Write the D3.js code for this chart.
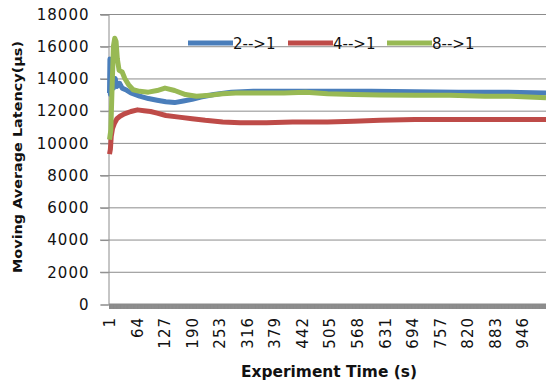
<!DOCTYPE html>
<html><head><meta charset="utf-8">
<script src="https://cdn.jsdelivr.net/npm/d3@7"></script>
<style>
html,body{margin:0;padding:0;background:#fff;}
svg{display:block;}
text{font-family:"DejaVu Sans",sans-serif;fill:#111;}
</style></head>
<body>
<svg id="c" width="546" height="383"></svg>
<script>
// ---- data ----
const xLabels = ["1","64","127","190","253","316","379","442","505","568","631","694","757","820","883","946"];
const yTicks = [0,2000,4000,6000,8000,10000,12000,14000,16000,18000];
const seriesNames = ["2-->1","4-->1","8-->1"];
const seriesColors = ["#4a7ebb","#be4b48","#98b954"];

const blueTimes  = [1,2,3,4,5,7,10,14,18,24,30,38,50,70,90,110,130,150,170,190,210,240,280,330,400,500,600,700,800,900,1000];
const blueValues = [13100,15200,13000,14800,13300,13900,13400,14000,13500,13700,13400,13300,13100,12900,12750,12650,12550,12500,12600,12700,12850,13000,13150,13200,13200,13200,13200,13180,13150,13150,13100];

const redTimes  = [1,3,5,8,12,18,25,35,50,65,80,95,110,130,160,190,220,260,300,360,420,500,560,620,700,800,900,1000];
const redValues = [9300,9600,10400,10900,11200,11500,11650,11800,11950,12050,12000,11950,11850,11700,11600,11500,11400,11300,11250,11250,11300,11300,11350,11400,11450,11450,11450,11450];

const greenTimes  = [1,4,7,10,13,16,19,23,30,36,45,55,70,90,110,128,150,175,200,230,260,290,330,400,450,500,560,620,700,780,860,920,960,1000];
const greenValues = [10200,10800,13500,16000,16500,16300,15200,14500,14400,14000,13600,13300,13200,13150,13250,13400,13250,13000,12900,12950,13050,13100,13100,13100,13150,13050,13000,12980,12950,12950,12900,12900,12850,12800];

const seriesTimes = [blueTimes, redTimes, greenTimes];
const seriesValues = [blueValues, redValues, greenValues];
const nCategories = 1000;

// ---- chart ----
const svg = d3.select("#c");
const categories = d3.range(1, nCategories + 1);
const x = d3.scalePoint().domain(categories).range([109.5, 546]);
const y = d3.scaleLinear().domain([0, 18000]).range([304, 14]);
const gridColor = "#8c8c8c";

// gridlines
svg.append("g").selectAll("line").data(yTicks.filter(d => d > 0)).join("line")
  .attr("x1", 100).attr("x2", 546)
  .attr("y1", d => y(d) + 0.5).attr("y2", d => y(d) + 0.5)
  .attr("stroke", gridColor).attr("stroke-width", 1);

// y axis
const gy = svg.append("g").attr("transform", "translate(108.5,0.5)")
  .call(d3.axisLeft(y).tickValues(yTicks).tickSize(8).tickPadding(11).tickFormat(d => String(d)));
gy.select(".domain").attr("stroke", gridColor);
gy.selectAll(".tick line").attr("stroke", gridColor);
gy.selectAll("text").attr("font-size", 15).attr("letter-spacing", 1).attr("fill", "#111")
  .attr("font-family", "DejaVu Sans");

// lines
const line = d3.line().x(d => x(d[0])).y(d => y(d[1]));
seriesNames.forEach((name, i) => {
  const pts = seriesTimes[i].map((t, j) => [t, seriesValues[i][j]]);
  svg.append("path").datum(pts)
    .attr("fill", "none").attr("stroke", seriesColors[i])
    .attr("stroke-width", 5).attr("stroke-linejoin", "round")
    .attr("d", line);
});

// x axis: dense tick band
const gxTicks = svg.append("g").attr("transform", "translate(0,304)")
  .call(d3.axisBottom(x).tickValues(categories).tickSize(5).tickFormat(""));
gxTicks.select(".domain").attr("stroke", "#8c8c8c").attr("stroke-width", 2);
gxTicks.selectAll(".tick line").attr("stroke", "#8c8c8c");

// x axis labels
const gx = svg.append("g").attr("transform", "translate(0,304)")
  .call(d3.axisBottom(x).tickValues(xLabels.map(Number)).tickSize(0).tickFormat(d => String(d)));
gx.select(".domain").remove();
gx.selectAll("text")
  .attr("transform", "rotate(-90)")
  .attr("x", -13).attr("y", 0).attr("dy", "0.35em")
  .attr("text-anchor", "end")
  .attr("font-size", 15).attr("letter-spacing", 1).attr("fill", "#111")
  .attr("font-family", "DejaVu Sans");

// legend
const legendX = [188, 288, 387];
seriesNames.forEach((name, i) => {
  svg.append("line").attr("x1", legendX[i]).attr("x2", legendX[i] + 45)
    .attr("y1", 43).attr("y2", 43)
    .attr("stroke", seriesColors[i]).attr("stroke-width", 5);
  svg.append("text").attr("x", legendX[i] + 45).attr("y", 48.5)
    .attr("font-size", 15).attr("fill", "#111").text(name);
});

// axis titles
svg.append("text").attr("transform", "translate(22,157) rotate(-90)")
  .attr("text-anchor", "middle").attr("font-weight", "bold").attr("font-size", 13)
  .attr("textLength", 232).attr("lengthAdjust", "spacingAndGlyphs")
  .text("Moving Average Latency(μs)");
svg.append("text").attr("x", 329).attr("y", 377)
  .attr("text-anchor", "middle").attr("font-weight", "bold").attr("font-size", 15)
  .attr("textLength", 176).attr("lengthAdjust", "spacingAndGlyphs")
  .text("Experiment Time (s)");
</script>
</body></html>
